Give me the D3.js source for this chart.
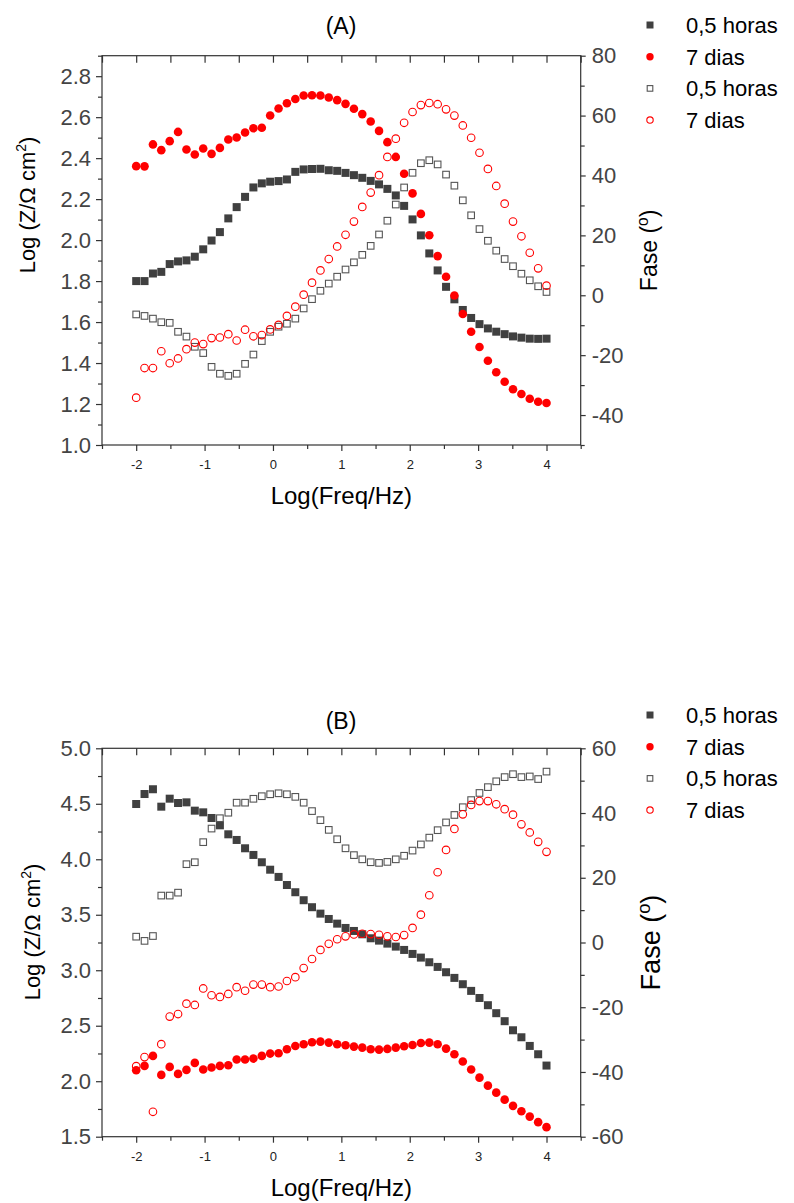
<!DOCTYPE html>
<html>
<head>
<meta charset="utf-8">
<script src="https://cdn.jsdelivr.net/npm/d3@7"></script>
<style>
  body { margin: 0; background: #fff; }
  svg { display: block; font-family: "Liberation Sans", Arial, sans-serif; }
</style>
</head>
<body>
<div id="chart"></div>
<script>

// log(frequency) grid, same for every series
const logF = [-2.000, -1.878, -1.755, -1.633, -1.510, -1.388, -1.265, -1.143, -1.020, -0.898,
  -0.776, -0.653, -0.531, -0.408, -0.286, -0.163, -0.041, 0.082, 0.204, 0.327,
  0.449, 0.571, 0.694, 0.816, 0.939, 1.061, 1.184, 1.306, 1.429, 1.551,
  1.673, 1.796, 1.918, 2.041, 2.163, 2.286, 2.408, 2.531, 2.653, 2.776,
  2.898, 3.020, 3.143, 3.265, 3.388, 3.510, 3.633, 3.755, 3.878, 4.000];

// (A) log|Z|
const aZHoras = [1.80, 1.80, 1.837, 1.845, 1.883, 1.896, 1.901, 1.919, 1.955, 1.998,
  2.039, 2.106, 2.161, 2.211, 2.257, 2.277, 2.285, 2.288, 2.296, 2.333,
  2.345, 2.347, 2.348, 2.341, 2.338, 2.328, 2.317, 2.304, 2.289, 2.272,
  2.250, 2.218, 2.167, 2.101, 2.023, 1.935, 1.852, 1.772, 1.711, 1.659,
  1.620, 1.590, 1.569, 1.553, 1.541, 1.530, 1.524, 1.519, 1.518, 1.519];
const aZDias = [2.361, 2.360, 2.467, 2.439, 2.483, 2.528, 2.442, 2.418, 2.447, 2.421,
  2.450, 2.491, 2.501, 2.525, 2.546, 2.548, 2.608, 2.642, 2.668, 2.689,
  2.706, 2.707, 2.706, 2.696, 2.683, 2.665, 2.641, 2.615, 2.579, 2.533,
  2.478, 2.406, 2.324, 2.228, 2.128, 2.024, 1.922, 1.821, 1.730, 1.639,
  1.553, 1.478, 1.411, 1.355, 1.309, 1.272, 1.249, 1.226, 1.211, 1.205];
// (A) fase
const aFaseHoras = [-6.4, -6.9, -7.8, -9.0, -9.2, -12.2, -13.8, -17.2, -19.3, -23.9,
  -26.2, -26.9, -26.2, -22.9, -19.8, -15.3, -12.2, -10.5, -9.5, -7.8,
  -4.4, -1.3, 1.5, 3.9, 6.2, 8.6, 11.0, 13.5, 16.5, 20.3,
  24.9, 30.3, 36.0, 40.9, 44.1, 45.1, 43.7, 40.3, 36.6, 31.7,
  26.7, 22.1, 18.2, 14.9, 12.1, 9.7, 7.2, 5.0, 3.0, 1.1];
const aFaseDias = [-34.2, -24.3, -24.3, -18.7, -22.7, -21.1, -18.0, -15.8, -16.3, -14.3,
  -14.1, -13.0, -15.1, -11.5, -13.7, -13.3, -11.4, -9.9, -6.9, -3.8,
  0.2, 4.2, 8.3, 12.1, 16.3, 20.2, 24.6, 29.5, 34.3, 40.1,
  46.2, 52.3, 57.6, 61.2, 63.5, 64.2, 63.8, 62.1, 60.0, 56.7,
  52.6, 47.6, 42.2, 36.5, 30.6, 24.6, 19.7, 14.2, 9.0, 3.2];

// (B) log|Z|
const bZHoras = [4.498, 4.588, 4.631, 4.474, 4.546, 4.507, 4.513, 4.438, 4.423, 4.372,
  4.306, 4.225, 4.174, 4.099, 4.039, 3.973, 3.906, 3.841, 3.768, 3.703,
  3.631, 3.568, 3.510, 3.462, 3.420, 3.381, 3.354, 3.324, 3.288, 3.267,
  3.240, 3.213, 3.183, 3.147, 3.114, 3.072, 3.030, 2.982, 2.931, 2.874,
  2.814, 2.750, 2.685, 2.613, 2.541, 2.459, 2.396, 2.318, 2.243, 2.141];
const bZDias = [2.099, 2.138, 2.228, 2.057, 2.129, 2.066, 2.102, 2.165, 2.105, 2.123,
  2.138, 2.144, 2.195, 2.195, 2.204, 2.228, 2.249, 2.252, 2.288, 2.318,
  2.333, 2.351, 2.357, 2.348, 2.333, 2.324, 2.312, 2.303, 2.288, 2.285,
  2.291, 2.303, 2.315, 2.327, 2.345, 2.348, 2.333, 2.294, 2.243, 2.177,
  2.105, 2.032, 1.960, 1.897, 1.834, 1.778, 1.730, 1.681, 1.631, 1.586];
// (B) fase
const bFaseHoras = [1.8, 0.5, 2.0, 14.5, 14.5, 15.4, 24.2, 24.8, 31.0, 35.2,
  38.4, 40.1, 43.2, 43.2, 44.4, 45.2, 45.8, 46.1, 45.8, 45.0,
  43.2, 40.6, 37.8, 34.8, 31.9, 29.1, 27.0, 25.7, 24.8, 24.6,
  24.9, 25.7, 26.8, 28.4, 30.3, 32.4, 34.7, 37.1, 39.4, 41.8,
  44.0, 46.2, 48.0, 49.8, 51.1, 52.0, 51.1, 51.3, 50.5, 52.8];
const bFaseDias = [-38.2, -35.4, -52.3, -31.4, -22.9, -22.1, -18.9, -19.3, -14.2, -16.3,
  -16.8, -15.9, -13.8, -14.9, -13.0, -13.0, -13.8, -13.6, -11.9, -10.7,
  -7.9, -5.1, -2.3, -0.4, 1.0, 1.9, 2.5, 2.7, 2.6, 2.4,
  1.9, 1.7, 2.3, 4.5, 8.6, 14.6, 21.7, 28.6, 35.1, 39.6,
  42.5, 43.7, 43.7, 42.7, 41.2, 39.5, 36.5, 34.0, 31.1, 28.0];

// tick labels
const xTicks = [-2, -1, 0, 1, 2, 3, 4];
const xMinor = [-2.5, -1.5, -0.5, 0.5, 1.5, 2.5, 3.5, 4.5];
const aLeftTicks = [1.0, 1.2, 1.4, 1.6, 1.8, 2.0, 2.2, 2.4, 2.6, 2.8];
const aLeftMinor = [1.1, 1.3, 1.5, 1.7, 1.9, 2.1, 2.3, 2.5, 2.7, 2.9];
const aRightTicks = [-40, -20, 0, 20, 40, 60, 80];
const aRightMinor = [-50, -30, -10, 10, 30, 50, 70];
const bLeftTicks = [1.5, 2.0, 2.5, 3.0, 3.5, 4.0, 4.5, 5.0];
const bLeftMinor = [1.75, 2.25, 2.75, 3.25, 3.75, 4.25, 4.75];
const bRightTicks = [-60, -40, -20, 0, 20, 40, 60];
const bRightMinor = [-50, -30, -10, 10, 30, 50];

const legendLabels = ['0,5 horas', '7 dias', '0,5 horas', '7 dias'];

const W = 794, H = 1203;
const plotLeft = 102, plotRight = 580.7;
const dark = '#404040', red = '#ff0000';

// plain hyphen for negatives, like the original
const fmtInt = (d) => String(d);
const fmt1 = (d) => d.toFixed(1);

const svg = d3.select('#chart').append('svg')
  .attr('width', W)
  .attr('height', H);

function drawMarker(g, kind, cx, cy, s) {
  if (kind == 'fsq') {
    g.append('rect').attr('x', cx - s / 2).attr('y', cy - s / 2).attr('width', s).attr('height', s)
      .attr('fill', dark);
  } else if (kind == 'fci') {
    g.append('circle').attr('cx', cx).attr('cy', cy).attr('r', s / 2).attr('fill', red);
  } else if (kind == 'osq') {
    g.append('rect').attr('x', cx - s / 2 + 0.5).attr('y', cy - s / 2 + 0.5).attr('width', s - 1).attr('height', s - 1)
      .attr('fill', 'none').attr('stroke', '#555').attr('stroke-width', 1.1);
  } else {
    g.append('circle').attr('cx', cx).attr('cy', cy).attr('r', s / 2 - 0.5)
      .attr('fill', 'none').attr('stroke', red).attr('stroke-width', 1.1);
  }
}

function drawPanel(p) {

  const x = d3.scaleLinear().domain([-2.5, 4.5]).range([plotLeft, plotRight]);
  const yL = d3.scaleLinear().domain(p.leftDomain).range([p.bottom, p.top]);
  const yR = d3.scaleLinear().domain(p.rightDomain).range([p.bottom, p.top]);

  const g = svg.append('g');

  // frame
  g.append('rect')
    .attr('x', plotLeft).attr('y', p.top)
    .attr('width', plotRight - plotLeft).attr('height', p.bottom - p.top)
    .attr('fill', 'none').attr('stroke', '#333').attr('stroke-width', 1.2);

  const styleAxis = (sel, color, size) => {
    sel.attr('font-family', null).attr('font-size', null);
    sel.select('.domain').remove();
    sel.selectAll('.tick line').attr('stroke', '#333').attr('stroke-width', 1.2);
    sel.selectAll('.tick text').attr('fill', color).style('font-size', size + 'px');
  };

  // bottom
  g.append('g').attr('transform', `translate(0,${p.bottom})`)
    .call(d3.axisBottom(x).tickValues(xTicks).tickSize(6).tickPadding(9).tickFormat(fmtInt))
    .call(s => styleAxis(s, '#222', 13));
  g.append('g').attr('transform', `translate(0,${p.bottom})`)
    .call(d3.axisBottom(x).tickValues(xMinor).tickSize(4).tickFormat(''))
    .call(s => styleAxis(s, '#222', 13));

  // top, inward ticks
  g.append('g').attr('transform', `translate(0,${p.top})`)
    .call(d3.axisBottom(x).tickValues(xTicks.concat(xMinor)).tickSize(7).tickFormat(''))
    .call(s => styleAxis(s, '#222', 13));

  // left
  g.append('g').attr('transform', `translate(${plotLeft},0)`)
    .call(d3.axisLeft(yL).tickValues(p.leftTicks).tickSize(6).tickPadding(5).tickFormat(fmt1))
    .call(s => styleAxis(s, '#444', 22));
  g.append('g').attr('transform', `translate(${plotLeft},0)`)
    .call(d3.axisLeft(yL).tickValues(p.leftMinor).tickSize(4).tickFormat(''))
    .call(s => styleAxis(s, '#444', 22));

  // right
  g.append('g').attr('transform', `translate(${plotRight},0)`)
    .call(d3.axisRight(yR).tickValues(p.rightTicks).tickSize(5).tickPadding(6).tickFormat(fmtInt))
    .call(s => styleAxis(s, '#444', 22));
  g.append('g').attr('transform', `translate(${plotRight},0)`)
    .call(d3.axisRight(yR).tickValues(p.rightMinor).tickSize(4).tickFormat(''))
    .call(s => styleAxis(s, '#444', 22));

  // axis titles
  g.append('text')
    .attr('x', (plotLeft + plotRight) / 2).attr('y', p.bottom + 59)
    .attr('text-anchor', 'middle').style('font-size', '24px').attr('fill', '#000')
    .text('Log(Freq/Hz)');

  const lt = g.append('text')
    .attr('transform', `translate(${p.leftTitleX},${p.leftTitleY}) rotate(-90)`)
    .attr('text-anchor', 'middle').style('font-size', '22px').attr('fill', '#000');
  lt.append('tspan').text('Log (Z/\u03A9 cm');
  lt.append('tspan').attr('dy', -9).style('font-size', '14px').text('2');
  lt.append('tspan').attr('dy', 9).text(')');

  const rt = g.append('text')
    .attr('transform', `translate(${p.rightTitleX},${(p.top + p.bottom) / 2}) rotate(-90)`)
    .attr('text-anchor', 'middle').style('font-size', p.rightTitleSize + 'px').attr('fill', '#000');
  rt.append('tspan').text('Fase (');
  rt.append('tspan').attr('dy', -p.rightTitleSize * 0.38).style('font-size', (p.rightTitleSize * 0.68) + 'px').text('o');
  rt.append('tspan').attr('dy', p.rightTitleSize * 0.38).text(')');

  // panel title
  g.append('text')
    .attr('x', 341).attr('y', p.titleY)
    .attr('text-anchor', 'middle').style('font-size', '23px').attr('fill', '#000')
    .text(p.title);

  // data
  const series = [
    { kind: 'fsq', vals: p.zHoras, y: yL, size: 8 },
    { kind: 'fci', vals: p.zDias, y: yL, size: 8.6 },
    { kind: 'osq', vals: p.faseHoras, y: yR, size: 7.6 },
    { kind: 'oci', vals: p.faseDias, y: yR, size: 8.6 }
  ];

  series.forEach((s) => {
    const sg = g.append('g');
    s.vals.forEach((v, i) => {
      drawMarker(sg, s.kind, x(logF[i]), s.y(v), s.size);
    });
  });

  // legend
  const leg = g.append('g');
  const legSize = [7, 7.4, 6.6, 7.4];
  series.forEach((s, i) => {
    const cy = p.legendY + i * 31.7;
    drawMarker(leg, s.kind, 650, cy, legSize[i]);
    leg.append('text')
      .attr('x', 686).attr('y', cy + 8)
      .style('font-size', '22px').attr('fill', '#000')
      .text(legendLabels[i]);
  });
}

drawPanel({
  title: '(A)', titleY: 34,
  top: 55.7, bottom: 445,
  leftDomain: [1.0, 2.9], rightDomain: [-50, 80],
  leftTicks: aLeftTicks, leftMinor: aLeftMinor,
  rightTicks: aRightTicks, rightMinor: aRightMinor,
  zHoras: aZHoras, zDias: aZDias, faseHoras: aFaseHoras, faseDias: aFaseDias,
  leftTitleX: 35, leftTitleY: 205,
  rightTitleX: 657, rightTitleSize: 23,
  legendY: 25
});

drawPanel({
  title: '(B)', titleY: 729,
  top: 748.3, bottom: 1136.7,
  leftDomain: [1.5, 5.0], rightDomain: [-60, 60],
  leftTicks: bLeftTicks, leftMinor: bLeftMinor,
  rightTicks: bRightTicks, rightMinor: bRightMinor,
  zHoras: bZHoras, zDias: bZDias, faseHoras: bFaseHoras, faseDias: bFaseDias,
  leftTitleX: 40, leftTitleY: 932,
  rightTitleX: 660, rightTitleSize: 27,
  legendY: 715
});

</script>
</body>
</html>
